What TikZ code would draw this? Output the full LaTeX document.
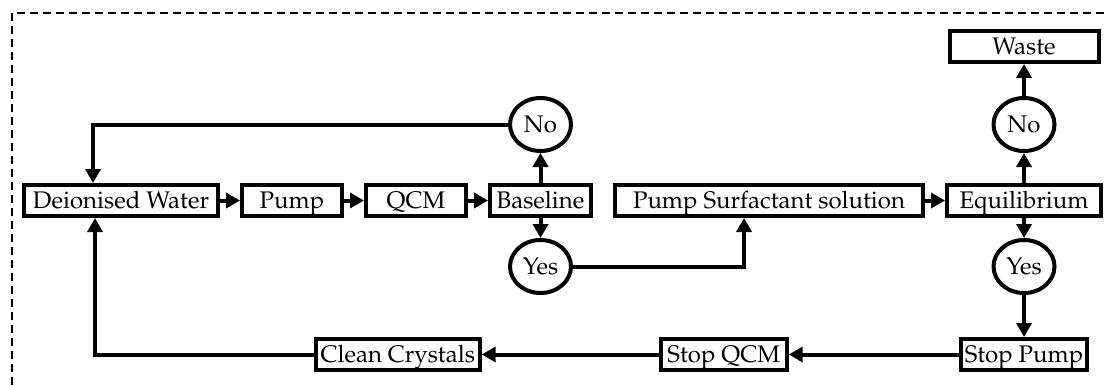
\documentclass[tikz,border=0pt]{standalone}
\usepackage[T1]{fontenc}
\usepackage{mathpazo}
\usepackage{tikz}
\usetikzlibrary{arrows.meta, positioning, shapes.geometric}

\begin{document}
\begin{tikzpicture}[
    x=0.5pt, y=-0.5pt,
    font=\fontsize{12}{14}\selectfont,
    node distance=10pt,
    stage/.style={rectangle, draw, line width=2pt, minimum height=15.5pt, inner sep=2pt, text height=8.5pt, text depth=0.2pt, align=center},
    choice/.style={ellipse, draw, line width=2pt, minimum width=30.5pt, minimum height=26.5pt, inner sep=0pt, text height=8.5pt, text depth=0.2pt},
    flow/.style={-{Triangle[length=7pt,width=7.5pt]}, line width=2pt},
    frame/.style={line width=1.2pt, dash pattern=on 4pt off 2.5pt},
  ]
  \useasboundingbox (0,0) rectangle (1106,385);
  \draw[frame] (12,385) -- (12,13) -- (1106,13);

  % main line
  \node[stage, minimum width=97pt, anchor=west] (water) at (22,200.5) {Deionised Water};
  \node[stage, minimum width=50pt, right=of water] (pump) {Pump};
  \node[stage, minimum width=50pt, right=of pump] (qcm) {QCM};
  \node[stage, minimum width=50.5pt, right=of qcm] (baseline) {Baseline};
  \node[stage, minimum width=154pt, right=of baseline] (surf) {Pump Surfactant solution};
  \node[stage, minimum width=77pt, right=of surf] (equil) {Equilibrium};

  % decisions
  \node[choice, above=15pt of baseline] (nobase) {No};
  \node[choice, below=of baseline] (yesbase) {Yes};
  \node[choice, above=15pt of equil] (noeq) {No};
  \node[choice, below=of equil] (yeseq) {Yes};
  \node[stage, minimum width=74.5pt, above=16pt of noeq] (waste) {Waste};

  % cleaning line
  \node[stage, minimum width=61.5pt, below=21pt of yeseq] (stoppump) {Stop Pump};
  \node[stage, minimum width=63pt, left=85pt of stoppump] (stopqcm) {Stop QCM};
  \node[stage, minimum width=82pt, left=88.5pt of stopqcm] (clean) {Clean Crystals};

  \coordinate (backtop) at ([xshift=35.5pt]water.north west);
  \coordinate (backbot) at ([xshift=36.5pt]water.south west);
  \coordinate (surfin) at ([xshift=65.5pt]surf.south west);

  \draw[flow] (water) -- (pump);
  \draw[flow] (pump) -- (qcm);
  \draw[flow] (qcm) -- (baseline);
  \draw[flow] (baseline) -- (nobase);
  \draw[flow] (baseline) -- (yesbase);
  \draw[flow] (nobase.west) -| (backtop);
  \draw[flow] (yesbase.east) -| (surfin);
  \draw[flow] (surf) -- (equil);
  \draw[flow] (equil) -- (noeq);
  \draw[flow] (noeq) -- (waste);
  \draw[flow] (equil) -- (yeseq);
  \draw[flow] (yeseq) -- (stoppump);
  \draw[flow] (stoppump) -- (stopqcm);
  \draw[flow] (stopqcm) -- (clean);
  \draw[flow] (clean.west) -| (backbot);
\end{tikzpicture}
\end{document}
